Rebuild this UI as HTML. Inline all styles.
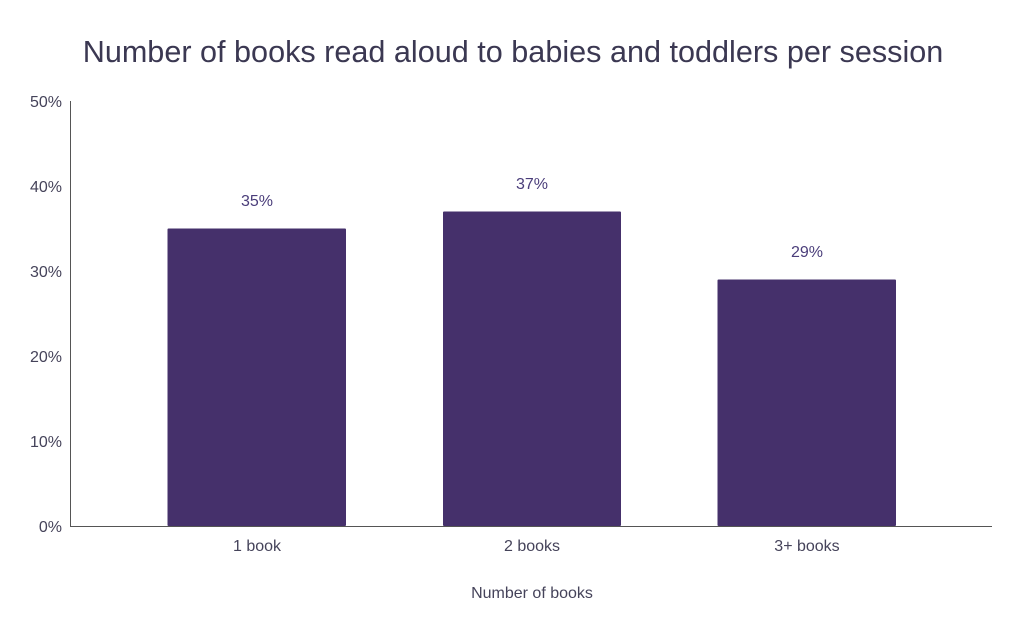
<!DOCTYPE html>
<html><head><meta charset="utf-8"><style>
html,body{margin:0;padding:0;background:#fff;}
svg{display:block;font-family:"Liberation Sans",sans-serif;}
</style></head><body>
<svg width="1024" height="634" viewBox="0 0 1024 634">
<text x="513" y="62" text-anchor="middle" font-size="30.6" fill="#3b3852">Number of books read aloud to babies and toddlers per session</text>
<g font-size="16" fill="#45435a" text-anchor="end">
<text x="62" y="107">50%</text>
<text x="62" y="192">40%</text>
<text x="62" y="277">30%</text>
<text x="62" y="362">20%</text>
<text x="62" y="447">10%</text>
<text x="62" y="532">0%</text>
</g>
<g fill="#45306b">
<rect x="167.5" y="228.5" width="178.5" height="297.5" rx="1"/>
<rect x="443" y="211.5" width="178" height="314.5" rx="1"/>
<rect x="717.5" y="279.5" width="178.5" height="246.5" rx="1"/>
</g>
<line x1="70.5" y1="101" x2="70.5" y2="526" stroke="#555" stroke-width="1"/>
<line x1="70" y1="526.5" x2="992" y2="526.5" stroke="#555" stroke-width="1"/>
<g font-size="16" fill="#4a3d7a" text-anchor="middle">
<text x="257" y="206">35%</text>
<text x="532" y="189">37%</text>
<text x="807" y="257">29%</text>
</g>
<g font-size="16" fill="#45435a" text-anchor="middle">
<text x="257" y="551">1 book</text>
<text x="532" y="551">2 books</text>
<text x="807" y="551">3+ books</text>
<text x="532" y="598">Number of books</text>
</g>
</svg>
</body></html>
